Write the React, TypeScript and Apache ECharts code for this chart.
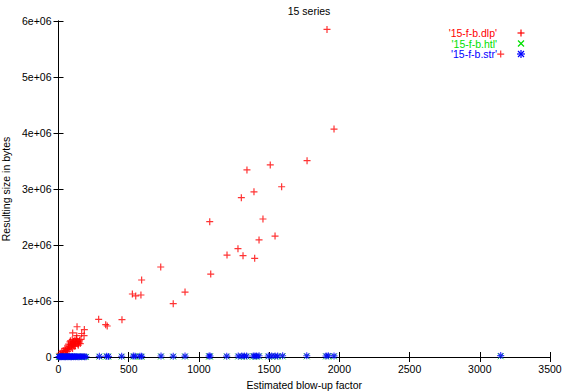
import React, { useEffect, useRef } from 'react';
import * as echarts from 'echarts';

// '15-f-b.dlp' series (red +)
const dlpX = [
  1912, 3149, 1962, 1770, 1508, 1342, 1589, 1392, 1302, 1456,
  1077, 1542, 1428, 1278, 1200, 1314, 1397, 728, 1084, 592,
  901, 526, 587, 550, 817, 286, 452, 336, 347, 132,
  184, 182, 165, 101, 130, 160, 148, 117, 82, 141,
  105, 70, 46, 34, 23, 11, 125, 95, 110, 88,
  120, 60, 75, 90, 50, 40, 55, 30, 15, 65,
  100, 135, 155, 72, 85, 98, 108, 115, 128, 143,
  150, 92, 78, 63, 112, 138, 121, 103,
];
const dlpY = [
  5850000, 5410000, 4070000, 3505000, 3430000, 3340000, 3040000, 2950000, 2845000, 2464000,
  2416000, 2160000, 2090000, 1934000, 1820000, 1810000, 1762000, 1607000, 1480000, 1375000,
  1160000, 1125000, 1107000, 1090000, 952000, 673000, 666000, 577000, 554000, 540000,
  490000, 380000, 420000, 430000, 380000, 315000, 270000, 300000, 270000, 210000,
  210000, 196000, 155000, 110000, 95000, 65000, 260000, 250000, 240000, 220000,
  200000, 160000, 140000, 170000, 120000, 80000, 60000, 50000, 30000, 100000,
  150000, 280000, 240000, 230000, 290000, 310000, 280000, 230000, 330000, 250000,
  300000, 200000, 180000, 130000, 190000, 230000, 270000, 265000,
];

// blow-up factors shared by '15-f-b.htl' (green x) and '15-f-b.str' (blue *)
const smallX = [
  3, 8, 12, 17, 22, 28, 33, 38, 44, 50,
  56, 62, 68, 74, 80, 87, 93, 100, 108, 115,
  122, 130, 138, 147, 155, 165, 175, 185, 196,
  291, 343, 355, 450, 533, 545, 580, 592, 730, 817,
  901, 1072, 1079, 1198, 1280, 1305, 1323, 1340, 1387, 1399,
  1411, 1428, 1494, 1518, 1542, 1561, 1596, 1768, 1905, 1921,
  1962, 3149,
];
const strY = [
  4000, 6000, 3000, 8000, 5000, 7000, 4000, 9000, 6000, 5000,
  8000, 4000, 7000, 6000, 9000, 5000, 3000, 8000, 6000, 7000,
  5000, 9000, 4000, 6000, 8000, 5000, 7000, 6000, 4000,
  12000, 15000, 11000, 14000, 16000, 13000, 15000, 12000, 18000, 14000,
  16000, 19000, 17000, 15000, 18000, 16000, 20000, 17000, 19000, 18000,
  16000, 21000, 17000, 19000, 20000, 18000, 22000, 21000, 19000, 23000,
  20000, 25000,
];
const htlY = [
  2000, 3000, 2000, 4000, 3000, 3000, 2000, 5000, 3000, 3000,
  4000, 2000, 4000, 3000, 5000, 3000, 2000, 4000, 3000, 4000,
  3000, 5000, 2000, 3000, 4000, 3000, 4000, 3000, 2000,
  6000, 8000, 6000, 7000, 8000, 7000, 8000, 6000, 9000, 7000,
  8000, 10000, 9000, 8000, 9000, 8000, 10000, 9000, 10000, 9000,
  8000, 11000, 9000, 10000, 10000, 9000, 11000, 11000, 10000, 12000,
  10000, 13000,
];

const seriesNames = ["'15-f-b.dlp'", "'15-f-b.htl'", "'15-f-b.str'"];
const seriesColors = ['#ff0000', '#00e000', '#0000ff'];

const FONT = 'Liberation Sans, Arial, sans-serif';
const FS = 10.5;

const PLUS = 'path://M0,3.5H7M3.5,0V7';
const CROSS = 'path://M0,0L6,6M6,0L0,6';
const STAR = 'path://M0,4H8M4,0V8M1.2,1.2L6.8,6.8M6.8,1.2L1.2,6.8';

export default function App() {
  const ref = useRef<HTMLDivElement>(null);
  useEffect(() => {
    const chart = echarts.init(ref.current!, null, { renderer: 'svg' });
    const dlp = dlpX.map((x, i) => [x, dlpY[i]]);
    const htl = smallX.map((x, i) => [x, htlY[i]]);
    const str = smallX.map((x, i) => [x, strY[i]]);

    const axisCommon = {
      axisLine: { lineStyle: { color: '#000', width: 1 } },
      axisTick: { inside: true, length: 5, lineStyle: { color: '#000', width: 1 } },
      splitLine: { show: false },
    };

    const lx = 497;
    const mx = 521;
    const rows = [33, 43.5, 54];
    const legendGraphics: any[] = [];
    rows.forEach((y, i) => {
      legendGraphics.push({
        type: 'text',
        x: lx,
        y,
        style: {
          text: seriesNames[i],
          fill: seriesColors[i],
          font: `${FS}px ${FONT}`,
          align: 'right',
          verticalAlign: 'middle',
        },
      });
    });
    const ls = (c: string) => ({ stroke: c, lineWidth: 1.2 });
    legendGraphics.push(
      { type: 'line', shape: { x1: mx - 3.5, y1: rows[0], x2: mx + 3.5, y2: rows[0] }, style: ls(seriesColors[0]) },
      { type: 'line', shape: { x1: mx, y1: rows[0] - 3.5, x2: mx, y2: rows[0] + 3.5 }, style: ls(seriesColors[0]) },
      { type: 'line', shape: { x1: mx - 3, y1: rows[1] - 3, x2: mx + 3, y2: rows[1] + 3 }, style: ls(seriesColors[1]) },
      { type: 'line', shape: { x1: mx + 3, y1: rows[1] - 3, x2: mx - 3, y2: rows[1] + 3 }, style: ls(seriesColors[1]) },
      { type: 'line', shape: { x1: mx - 4, y1: rows[2], x2: mx + 4, y2: rows[2] }, style: ls(seriesColors[2]) },
      { type: 'line', shape: { x1: mx, y1: rows[2] - 4, x2: mx, y2: rows[2] + 4 }, style: ls(seriesColors[2]) },
      { type: 'line', shape: { x1: mx - 3, y1: rows[2] - 3, x2: mx + 3, y2: rows[2] + 3 }, style: ls(seriesColors[2]) },
      { type: 'line', shape: { x1: mx + 3, y1: rows[2] - 3, x2: mx - 3, y2: rows[2] + 3 }, style: ls(seriesColors[2]) },
    );

    chart.setOption({
      animation: false,
      backgroundColor: '#fff',
      textStyle: { fontFamily: FONT },
      title: {
        text: '15 series',
        left: 304,
        top: 0,
        textAlign: 'center',
        textStyle: { fontSize: FS, fontWeight: 'normal', color: '#000', fontFamily: FONT },
      },
      grid: { left: 58.5, right: 13, top: 21, bottom: 35, containLabel: false, outerBoundsMode: 'none' },
      xAxis: [
        {
          type: 'value',
          min: 0,
          max: 3500,
          interval: 500,
          position: 'bottom',
          ...axisCommon,
          axisLabel: { color: '#000', fontSize: FS, fontFamily: FONT, margin: 6, formatter: (v: number) => String(v) },
          name: 'Estimated blow-up factor',
          nameLocation: 'middle',
          nameGap: 22,
          nameTextStyle: { color: '#000', fontSize: FS, fontFamily: FONT },
        },
        {
          type: 'value',
          min: 0,
          max: 3500,
          interval: 500,
          position: 'top',
          ...axisCommon,
          axisLabel: { show: false },
        },
      ],
      yAxis: [
        {
          type: 'value',
          min: 0,
          max: 6000000,
          interval: 1000000,
          position: 'left',
          ...axisCommon,
          axisLabel: {
            color: '#000',
            fontSize: FS,
            fontFamily: FONT,
            margin: 7,
            formatter: (v: number) => (v === 0 ? '0' : `${v / 1000000}e+06`),
          },
          name: 'Resulting size in bytes',
          nameLocation: 'middle',
          nameGap: 40,
          nameRotate: 90,
          nameTextStyle: { color: '#000', fontSize: FS, fontFamily: FONT },
        },
        {
          type: 'value',
          min: 0,
          max: 6000000,
          interval: 1000000,
          position: 'right',
          ...axisCommon,
          axisLabel: { show: false },
        },
      ],
      series: [
        {
          name: seriesNames[0],
          type: 'scatter',
          data: dlp,
          symbol: PLUS,
          symbolSize: 7,
          itemStyle: { color: seriesColors[0], borderColor: seriesColors[0], borderWidth: 1.2 },
          emphasis: { disabled: true },
        },
        {
          name: seriesNames[1],
          type: 'scatter',
          data: htl,
          symbol: CROSS,
          symbolSize: 6,
          itemStyle: { color: seriesColors[1], borderColor: seriesColors[1], borderWidth: 1 },
          emphasis: { disabled: true },
        },
        {
          name: seriesNames[2],
          type: 'scatter',
          data: str,
          symbol: STAR,
          symbolSize: 7,
          itemStyle: { color: seriesColors[2], borderColor: seriesColors[2], borderWidth: 1.1 },
          emphasis: { disabled: true },
        },
      ],
      graphic: legendGraphics,
    });
    return () => chart.dispose();
  }, []);
  return (
    <div
      ref={ref}
      style={{ position: 'fixed', left: 0, top: 0, width: 563, height: 392, background: '#fff' }}
    />
  );
}
